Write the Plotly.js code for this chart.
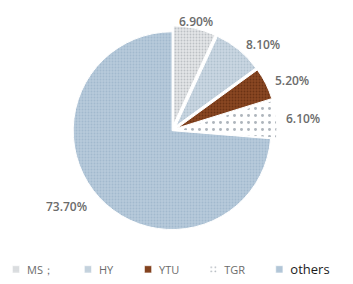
<!DOCTYPE html>
<html><head><meta charset="utf-8">
<script src="https://cdn.plot.ly/plotly-3.0.1.min.js"></script>
<style>
html,body{margin:0;padding:0;background:#fff}#chart{width:353px;height:284px}
.legendpoints path{transform:translate(16px,0) scale(0.6)}
.legend .legendtext{transform:translate(-13px,0)}
</style>
</head><body><div id="chart"></div>
<script>
var categories = ['MS；', 'HY', 'YTU', 'TGR', 'others'];
var shares = [6.9, 8.1, 5.2, 6.1, 73.7];
var pulls = [0.06, 0.06, 0.06, 0.06, 0];
var fillColors = ['#e4e6e8', '#cad7e2', '#8a4722', '#ffffff', '#b7cadb'];
var patternFg = ['#bcc0c4', '#b0c1cf', '#6b3214', '#aeb5bc', '#a2b9ce'];
var patternSizes = [3, 3, 3, 7, 3];
var patternSolidity = [0.3, 0.3, 0.3, 0.14, 0.3];

var W = 353, H = 284;
var dom = {x: [0.187, 0.788], y: [0.162, 0.908]};
var maxPull = Math.max.apply(null, pulls);
var radius = Math.min((dom.x[1] - dom.x[0]) * W, (dom.y[1] - dom.y[0]) * H) / (2 + 2 * maxPull);
var cx = (dom.x[0] + dom.x[1]) / 2 * W;
var cy = (1 - (dom.y[0] + dom.y[1]) / 2) * H;
var labelRadius = 1.13 * radius;

var total = shares.reduce(function (a, b) { return a + b; }, 0);
var annotations = [];
var cum = 0;
shares.forEach(function (v) {
  var mid = (cum + v / 2) / total * 2 * Math.PI;
  cum += v;
  var s = Math.sin(mid), c = Math.cos(mid);
  var px = cx + labelRadius * s, py = cy - labelRadius * c;
  annotations.push({
    xref: 'paper', yref: 'paper', x: px / W, y: 1 - py / H,
    xanchor: Math.abs(s) < 0.3 ? 'center' : (s > 0 ? 'left' : 'right'),
    yanchor: 'middle', showarrow: false,
    text: v.toFixed(2) + '%',
    font: {family: 'Open Sans', size: 12, color: '#6b6b6b', weight: 600}
  });
});

var legendLabels = categories.map(function (c, i) {
  return i === categories.length - 1 ? '<span style="font-size:13px;color:#1a1a1a">' + c + '</span>' : c;
});

var trace = {
  type: 'pie',
  labels: legendLabels,
  values: shares,
  sort: false,
  direction: 'clockwise',
  rotation: 0,
  pull: pulls,
  textinfo: 'none',
  marker: {
    colors: fillColors,
    line: {color: '#ffffff', width: 1},
    pattern: {shape: '.', fgcolor: patternFg, bgcolor: fillColors, size: patternSizes, solidity: patternSolidity}
  },
  domain: dom,
  hoverinfo: 'none'
};
var layout = {
  width: W, height: H,
  margin: {l: 0, r: 0, t: 0, b: 0},
  paper_bgcolor: '#ffffff',
  showlegend: true,
  annotations: annotations,
  legend: {orientation: 'h', x: 0, xanchor: 'left', y: -0.01, yanchor: 'bottom',
           font: {family: 'Open Sans', size: 11, color: '#6b6b6b'}, itemwidth: 30, traceorder: 'normal'}
};
Plotly.newPlot('chart', [trace], layout, {staticPlot: true});
</script></body></html>
